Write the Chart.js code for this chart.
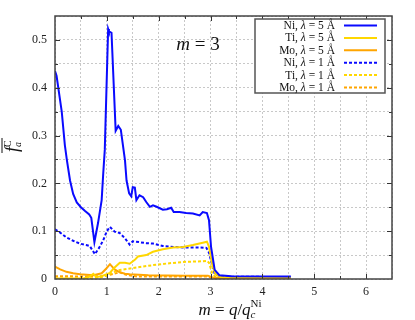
<!DOCTYPE html>
<html>
<head>
<meta charset="utf-8">
<script src="https://cdn.jsdelivr.net/npm/chart.js@4.4.0/dist/chart.umd.min.js"></script>
<style>
  html, body { margin: 0; padding: 0; background: #fff; }
  #wrap { width: 415px; height: 320px; position: relative; }
</style>
</head>
<body>
<div id="wrap"><canvas id="chart"></canvas></div>
<script>
// Curves, as [m, f] pairs
const ni5 = [[0,0.435],[0.03,0.425],[0.13,0.35],[0.19,0.28],[0.23,0.248],[0.29,0.206],[0.35,0.178],
  [0.42,0.16],[0.5,0.15],[0.58,0.142],[0.66,0.135],[0.7,0.128],[0.76,0.077],[0.83,0.117],[0.9,0.165],
  [0.93,0.22],[0.96,0.27],[1.025,0.523],[1.04,0.518],[1.09,0.515],[1.17,0.31],[1.22,0.32],[1.27,0.312],
  [1.35,0.248],[1.38,0.206],[1.43,0.179],[1.47,0.173],[1.5,0.192],[1.54,0.191],[1.57,0.165],[1.63,0.175],
  [1.7,0.171],[1.76,0.161],[1.83,0.151],[1.89,0.154],[1.96,0.151],[2.08,0.145],[2.16,0.146],[2.24,0.149],
  [2.29,0.14],[2.4,0.14],[2.53,0.138],[2.66,0.137],[2.79,0.133],[2.85,0.14],[2.93,0.138],[2.97,0.123],
  [3.01,0.067],[3.08,0.019],[3.17,0.008],[3.4,0.006],[4.55,0.005]];
const ti5 = [[0,0.001],[0.55,0.001],[0.65,0.004],[0.74,0.011],[0.8,0.004],[0.9,0.006],[1.0,0.01],
  [1.06,0.013],[1.15,0.024],[1.25,0.034],[1.35,0.034],[1.44,0.032],[1.54,0.04],[1.6,0.047],[1.76,0.05],
  [1.89,0.057],[2.08,0.062],[2.28,0.066],[2.47,0.067],[2.66,0.071],[2.85,0.076],[2.93,0.078],[2.97,0.068],
  [3.04,0.026],[3.1,0.01],[3.2,0.004],[4.55,0.003]];
const mo5 = [[0,0.026],[0.1,0.02],[0.22,0.015],[0.35,0.012],[0.48,0.01],[0.74,0.008],[0.9,0.012],
  [0.99,0.022],[1.06,0.031],[1.15,0.02],[1.25,0.014],[1.35,0.011],[1.44,0.01],[1.8,0.008],[2.5,0.007],
  [2.95,0.007],[3.05,0.003],[3.2,0.002],[4.55,0.002]];
const ni1 = [[0,0.104],[0.1,0.097],[0.22,0.087],[0.35,0.08],[0.48,0.074],[0.6,0.071],[0.67,0.069],
  [0.77,0.052],[0.85,0.065],[0.93,0.081],[1.0,0.1],[1.06,0.109],[1.15,0.099],[1.25,0.096],[1.35,0.085],
  [1.44,0.072],[1.5,0.079],[1.63,0.077],[1.76,0.075],[1.89,0.074],[2.08,0.069],[2.3,0.067],[2.47,0.066],
  [2.79,0.066],[2.92,0.065],[2.97,0.055],[3.01,0.038],[3.08,0.011],[3.2,0.005],[4.55,0.004]];
const ti1 = [[0,0.001],[0.7,0.001],[0.8,0.003],[0.9,0.004],[1.0,0.008],[1.1,0.013],[1.25,0.019],
  [1.57,0.024],[1.89,0.029],[2.21,0.033],[2.53,0.036],[2.85,0.037],[2.93,0.038],[2.97,0.034],
  [3.03,0.013],[3.1,0.004],[3.2,0.002],[4.55,0.002]];
const mo1 = [[0,0.006],[0.7,0.005],[0.95,0.006],[1.1,0.01],[1.25,0.014],[1.4,0.008],[1.6,0.005],
  [2.95,0.005],[3.05,0.002],[4.55,0.001]];

const seriesLabels = ['Ni', 'Ti', 'Mo', 'Ni', 'Ti', 'Mo'];
const seriesLambda = ['5', '5', '5', '1', '1', '1'];
const xTicks = [0, 1, 2, 3, 4, 5, 6];
const yTicks = [0, 0.1, 0.2, 0.3, 0.4, 0.5];

const BLUE = '#0a0aff';
const GOLD = '#ffd700';
const ORANGE = '#ffa500';
const SERIF = '"Liberation Serif", "DejaVu Serif", serif';

Chart.defaults.font.family = SERIF;

function toXY(pairs) {
    return pairs.map(p => ({ x: p[0], y: p[1] }));
}

function line(data, i, color, dashed) {
    return {
        label: seriesLabels[i] + ', λ = ' + seriesLambda[i] + ' Å',
        data: toXY(data),
        borderColor: color,
        borderWidth: 2,
        borderDash: dashed ? [3, 2] : [],
        pointRadius: 0,
        fill: false
    };
}

function isTick(v, list) {
    return list.some(t => Math.abs(t - v) < 1e-6);
}

// draw a run of text pieces with their own fonts and vertical offsets
function drawRich(ctx, segs, x, y, align) {
    let total = 0;
    segs.forEach(s => {
        ctx.font = s.font;
        s.w = ctx.measureText(s.t).width;
        if (!s.stack) total += s.w;
    });
    const left = align === 'right' ? x - total : align === 'center' ? x - total / 2 : x;
    let cx = left;
    let lastX = cx;
    segs.forEach(s => {
        ctx.font = s.font;
        const px = s.stack ? lastX : cx;
        ctx.fillText(s.t, px, y + (s.dy || 0));
        if (!s.stack) { lastX = cx; cx += s.w; }
    });
    return { left: left, width: total };
}

const decorations = {
    id: 'decorations',
    afterDraw(chart) {
        const ctx = chart.ctx;
        const a = chart.chartArea;
        const xs = chart.scales.x, ys = chart.scales.y;
        ctx.save();

        // inward tick marks on all four sides
        ctx.strokeStyle = '#333';
        ctx.lineWidth = 1;
        ctx.beginPath();
        for (let k = 1; k < 13; k++) {
            const v = k * 0.5;
            const px = Math.round(xs.getPixelForValue(v)) + 0.5;
            const len = isTick(v, xTicks) ? 5 : 3;
            ctx.moveTo(px, a.bottom); ctx.lineTo(px, a.bottom - len);
            ctx.moveTo(px, a.top); ctx.lineTo(px, a.top + len);
        }
        for (let k = 1; k < 11; k++) {
            const v = k * 0.05;
            const py = Math.round(ys.getPixelForValue(v)) + 0.5;
            const len = isTick(v, yTicks) ? 5 : 3;
            ctx.moveTo(a.left, py); ctx.lineTo(a.left + len, py);
            ctx.moveTo(a.right, py); ctx.lineTo(a.right - len, py);
        }
        ctx.stroke();

        // frame
        ctx.strokeStyle = '#444';
        ctx.lineWidth = 1.5;
        ctx.strokeRect(a.left, a.top, a.right - a.left, a.bottom - a.top);

        ctx.fillStyle = '#111';
        ctx.textBaseline = 'alphabetic';

        // inner title
        drawRich(ctx, [
            { t: 'm', font: 'italic 19px ' + SERIF },
            { t: ' = 3', font: '19px ' + SERIF }
        ], 198, 50, 'center');

        // x axis title
        drawRich(ctx, [
            { t: 'm', font: 'italic 17px ' + SERIF },
            { t: ' = ', font: '17px ' + SERIF },
            { t: 'q', font: 'italic 17px ' + SERIF },
            { t: '/', font: '17px ' + SERIF },
            { t: 'q', font: 'italic 17px ' + SERIF },
            { t: 'c', font: 'italic 11px ' + SERIF, dy: 3 },
            { t: 'Ni', font: '11px ' + SERIF, dy: -8, stack: true }
        ], 227, 315, 'center');

        // y axis title, rotated, with overline
        ctx.save();
        ctx.translate(15, 147);
        ctx.rotate(-Math.PI / 2);
        const box = drawRich(ctx, [
            { t: 'f', font: 'italic 18px ' + SERIF },
            { t: 'a', font: 'italic 10px ' + SERIF, dy: 3 },
            { t: 'C', font: '10px ' + SERIF, dy: -7, stack: true }
        ], 0, 3, 'center');
        ctx.strokeStyle = '#111';
        ctx.lineWidth = 1;
        ctx.beginPath();
        ctx.moveTo(box.left - 1, -13);
        ctx.lineTo(box.left + box.width + 4, -13);
        ctx.stroke();
        ctx.restore();

        // legend box
        const lx = 255, ly = 19, lw = 130, lh = 74;
        ctx.fillStyle = '#fff';
        ctx.fillRect(lx, ly, lw, lh);
        ctx.strokeStyle = '#555';
        ctx.lineWidth = 1.5;
        ctx.strokeRect(lx, ly, lw, lh);
        chart.data.datasets.forEach((ds, i) => {
            const ry = 25.5 + i * 12.4;
            ctx.fillStyle = '#111';
            ctx.textBaseline = 'middle';
            drawRich(ctx, [
                { t: seriesLabels[i] + ', ', font: '11.5px ' + SERIF },
                { t: 'λ', font: 'italic 11.5px ' + SERIF },
                { t: ' = ' + seriesLambda[i] + ' Å', font: '11.5px ' + SERIF }
            ], 335, ry + 0.5, 'right');
            ctx.strokeStyle = ds.borderColor;
            ctx.lineWidth = 2;
            ctx.setLineDash(ds.borderDash);
            ctx.beginPath();
            ctx.moveTo(344, ry);
            ctx.lineTo(377, ry);
            ctx.stroke();
            ctx.setLineDash([]);
        });

        ctx.restore();
    }
};

new Chart(document.getElementById('chart'), {
    type: 'line',
    data: {
        datasets: [
            line(ni5, 0, BLUE, false),
            line(ti5, 1, GOLD, false),
            line(mo5, 2, ORANGE, false),
            line(ni1, 3, BLUE, true),
            line(ti1, 4, GOLD, true),
            line(mo1, 5, ORANGE, true)
        ]
    },
    options: {
        responsive: true,
        maintainAspectRatio: false,
        animation: false,
        layout: { padding: { left: 15, top: 16, right: 23, bottom: 0 } },
        elements: { line: { tension: 0 } },
        plugins: {
            legend: { display: false },
            tooltip: { enabled: false }
        },
        scales: {
            x: {
                type: 'linear',
                min: 0,
                max: 6.5,
                ticks: {
                    stepSize: 0.5,
                    autoSkip: false,
                    maxRotation: 0,
                    padding: 6,
                    color: '#222',
                    font: { size: 12 },
                    callback: v => isTick(v, xTicks) ? String(Math.round(v)) : ''
                },
                grid: { color: '#c8c8c8', lineWidth: 1, drawTicks: false },
                border: { display: false, dash: [2, 2] },
                afterFit: s => { s.height = 41; }
            },
            y: {
                min: 0,
                max: 0.55,
                ticks: {
                    stepSize: 0.05,
                    autoSkip: false,
                    padding: 8,
                    color: '#222',
                    font: { size: 12 },
                    callback: v => isTick(v, yTicks) ? (v === 0 ? '0' : v.toFixed(1)) : ''
                },
                grid: { color: '#c8c8c8', lineWidth: 1, drawTicks: false },
                border: { display: false, dash: [2, 2] },
                afterFit: s => { s.width = 40; }
            }
        }
    },
    plugins: [decorations]
});
</script>
</body>
</html>
